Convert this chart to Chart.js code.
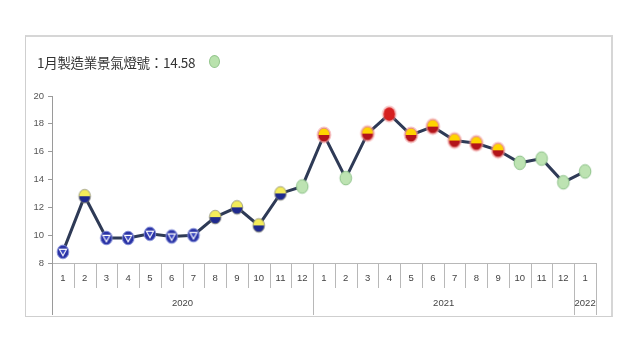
<!DOCTYPE html>
<html><head><meta charset="utf-8">
<script src="https://cdn.jsdelivr.net/npm/chart.js@4/dist/chart.umd.min.js"></script>
<style>
html,body{margin:0;padding:0;background:#fff;}
#wrap{position:relative;width:640px;height:360px;}
#box{position:absolute;left:25px;top:35px;width:585px;height:279px;border:1px solid #cfcfcf;border-top:2px solid #d6d6d6;border-right:2px solid #d6d6d6;}
#title{position:absolute;left:37px;top:53px;font-family:"Noto Sans CJK TC","Noto Sans",sans-serif;font-size:13.5px;line-height:18px;color:#333;white-space:nowrap;letter-spacing:-0.3px;}
#dot{position:absolute;left:209px;top:55px;width:11px;height:13px;border-radius:50%;background:#b9e2ad;border:1px solid #93c58c;box-sizing:border-box;}
canvas#c{position:absolute;left:0;top:0;}
</style></head>
<body><div id="wrap">
<div id="box"></div>
<canvas id="c" width="640" height="360"></canvas>
<div id="title">1月製造業景氣燈號：14.58</div>
<div id="dot"></div>
</div>
<script>
const months = ['1','2','3','4','5','6','7','8','9','10','11','12','1','2','3','4','5','6','7','8','9','10','11','12','1'];
const yearLabels = ['2020','2021','2022'];
const yearSpans = [12,12,1];
const scores = [8.8,12.8,9.8,9.8,10.1,9.9,10.0,11.3,12.0,10.7,13.0,13.5,17.2,14.1,17.3,18.7,17.2,17.8,16.8,16.6,16.1,15.2,15.5,13.8,14.58];
// signal: B=blue, YB=yellow-blue, G=green, YR=yellow-red, R=red
const signals = ['B','YB','B','B','B','B','B','YB','YB','YB','YB','G','YR','G','YR','R','YR','YR','YR','YR','YR','G','G','G','G'];
const yTicks = [8,10,12,14,16,18,20];

function marker(type){
  const c=document.createElement('canvas'); c.width=18; c.height=20;
  const g=c.getContext('2d'); const cx=9, cy=10, rx=5.8, ry=6.8;
  function ell(rxx,ryy){g.beginPath();g.ellipse(cx,cy,rxx,ryy,0,0,Math.PI*2);}
  if(type==='YR'||type==='R'){ ell(rx+1.6,ry+1.6); g.fillStyle='rgba(240,150,150,0.55)'; g.fill(); }
  if(type==='B'){
    ell(rx,ry); g.fillStyle='#2a33a6'; g.fill(); g.lineWidth=1; g.strokeStyle='#7f8ad6'; g.stroke();
    g.beginPath(); g.moveTo(cx-3.6,cy-2.6); g.lineTo(cx+3.6,cy-2.6); g.lineTo(cx,cy+3.8); g.closePath();
    g.fillStyle='#3b48c0'; g.fill(); g.lineWidth=1.1; g.strokeStyle='#ffffff'; g.stroke();
  } else if(type==='G'){
    ell(rx,ry); g.fillStyle='#bde3b2'; g.fill(); g.lineWidth=1; g.strokeStyle='#8ec28a'; g.stroke();
  } else if(type==='R'){
    ell(rx,ry); g.fillStyle='#d61f1f'; g.fill();
  } else {
    const top = '#f4ec5a', bot = type==='YB' ? '#1f2a8e' : '#b3141a';
    const top2 = type==='YR' ? '#ffd400' : top;
    g.save(); ell(rx,ry); g.clip();
    g.fillStyle=top2; g.fillRect(0,0,18,cy); g.fillStyle=bot; g.fillRect(0,cy,18,20-cy);
    g.restore();
    ell(rx,ry); g.lineWidth=0.8; g.strokeStyle= type==='YB' ? '#8a8a70' : '#e08080'; g.stroke();
  }
  return c;
}
const markerImgs = signals.map(marker);

const tablePlugin = {
  id:'table',
  afterDraw(chart){
    const ctx=chart.ctx, x=chart.scales.x, a=chart.chartArea;
    const top=a.bottom, monthBottom=288, bottom=315;
    const n=months.length;
    const half=(x.getPixelForValue(1)-x.getPixelForValue(0))/2;
    ctx.save();
    ctx.strokeStyle='#b8b8b8'; ctx.lineWidth=1;
    ctx.beginPath(); ctx.moveTo(a.left, Math.round(top)+0.5); ctx.lineTo(a.right, Math.round(top)+0.5); ctx.stroke();
    for(let i=1;i<n;i++){
      const px=Math.round(x.getPixelForValue(i)-half)+0.5;
      ctx.beginPath(); ctx.moveTo(px,top); ctx.lineTo(px,monthBottom); ctx.stroke();
    }
    let idx=0;
    const bounds=[0];
    yearSpans.forEach(s=>{idx+=s;bounds.push(idx);});
    bounds.forEach((b,k)=>{
      if(k===0) return;
      const px=Math.round(x.getPixelForValue(b)-half)+0.5;
      ctx.beginPath(); ctx.moveTo(px,top); ctx.lineTo(px,bottom); ctx.stroke();
    });
    ctx.strokeStyle='#9a9a9a';
    ctx.beginPath(); ctx.moveTo(Math.round(a.left)+0.5, top); ctx.lineTo(Math.round(a.left)+0.5, bottom); ctx.stroke();
    ctx.fillStyle='#444'; ctx.font='9.5px "Liberation Sans", sans-serif'; ctx.textAlign='center'; ctx.textBaseline='middle';
    months.forEach((m,i)=>{ ctx.fillText(m, x.getPixelForValue(i), 278); });
    yearLabels.forEach((y,k)=>{
      const l=x.getPixelForValue(bounds[k])-half, r=x.getPixelForValue(bounds[k+1])-half;
      ctx.fillText(y,(l+r)/2,303);
    });
    ctx.restore();
  }
};

new Chart(document.getElementById('c'),{
  type:'line',
  data:{labels:months,datasets:[{
    data:scores,
    borderColor:'#2e3a56', borderWidth:3, tension:0,
    pointStyle:markerImgs, pointRadius:6, pointHoverRadius:6
  }]},
  options:{
    responsive:false, animation:false, devicePixelRatio:1,
    layout:{padding:{top:96,left:0,right:44,bottom:0}},
    plugins:{legend:{display:false},tooltip:{enabled:false},title:{display:false}},
    scales:{
      x:{type:'category',offset:true,
        ticks:{display:false}, grid:{display:false}, border:{display:false},
        afterFit(s){s.height=97;}
      },
      y:{min:8,max:20,
        afterBuildTicks(s){s.ticks=yTicks.map(v=>({value:v}));},
        ticks:{font:{size:9.5,family:'"Liberation Sans", sans-serif'},color:'#555',padding:4},
        grid:{drawOnChartArea:false,drawTicks:true,tickLength:4,color:'#9a9a9a'},
        border:{color:'#9a9a9a'},
        afterFit(s){s.width=52;}
      }
    }
  },
  plugins:[tablePlugin]
});
</script>
</body></html>
